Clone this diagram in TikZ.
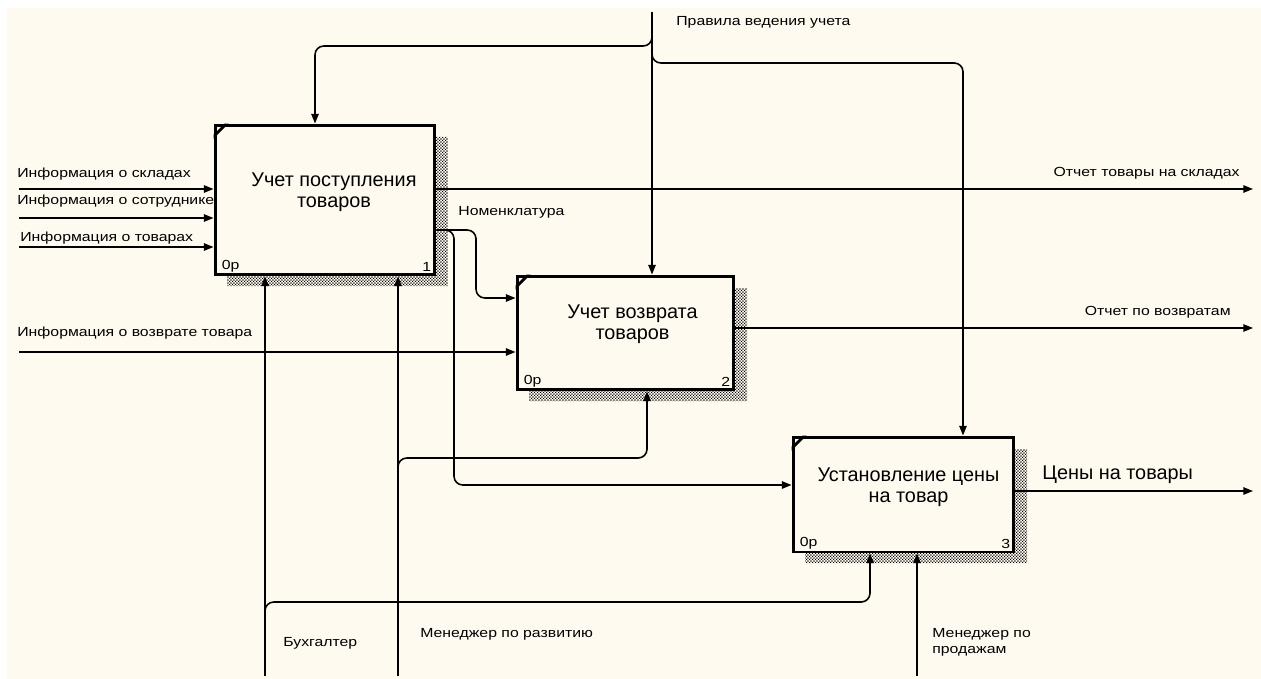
\documentclass[tikz,border=0pt]{standalone}
\usepackage{fontspec}
\setmainfont{Liberation Sans}
\newfontfamily\lblfont[FakeStretch=1.2]{Liberation Sans}
\usetikzlibrary{arrows.meta,patterns,calc}

\definecolor{paper}{RGB}{255,250,240}

% checker used for the drop shadows of the function boxes
\pgfdeclarepatternformonly{dither}{\pgfqpoint{0pt}{0pt}}{\pgfqpoint{1.7pt}{1.7pt}}{\pgfqpoint{1.7pt}{1.7pt}}{%
  \pgfpathrectangle{\pgfqpoint{0pt}{0pt}}{\pgfqpoint{0.7pt}{0.7pt}}%
  \pgfpathrectangle{\pgfqpoint{0.85pt}{0.85pt}}{\pgfqpoint{0.7pt}{0.7pt}}%
  \pgfusepath{fill}}

\tikzset{
  fbox/.style={draw, line width=1.7pt, fill=paper, inner sep=0pt},
  ftext/.style={align=center, font=\fontsize{11.3}{12}\selectfont, inner sep=0pt},
  corner/.style={font=\lblfont\fontsize{7.5}{9}\selectfont, inner sep=0pt},
  lbl/.style={font=\lblfont\fontsize{7.5}{9}\selectfont, inner sep=0pt},
  biglbl/.style={font=\fontsize{11.3}{12}\selectfont, inner sep=0pt},
  arr/.style={line width=0.9pt, -{Triangle[length=5.5pt,width=4.2pt]}},
  rc/.style={rounded corners=5},
}

\begin{document}
\begin{tikzpicture}[x=0.02cm,y=-0.02cm]
\useasboundingbox (0,0) rectangle (1261,679);
\fill[white] (0,0) rectangle (1261,679);
\fill[paper] (7,8) rectangle (1261,679);

% ---- labels drawn first so that boxes sit above them
\node[lbl, anchor=west] (lin1) at (17,174) {Информация о складах};
\node[lbl, anchor=west] (lin2) at (17,201) {Информация о сотруднике};
\node[lbl, anchor=west] (lin3) at (20,238) {Информация о товарах};
\node[lbl, anchor=west] (lin4) at (17,333) {Информация о возврате товара};
\node[lbl, anchor=west] (lctl) at (676,22) {Правила ведения учета};
\node[lbl, anchor=west] (lnom) at (458,212) {Номенклатура};
\node[lbl, anchor=east] (lout1) at (1240,173) {Отчет товары на складах};
\node[lbl, anchor=east] (lout2) at (1231,312) {Отчет по возвратам};
\node[biglbl, anchor=west] (lout3) at (1042,475) {Цены на товары};
\node[lbl, anchor=west] (lm1) at (283,643) {Бухгалтер};
\node[lbl, anchor=west] (lm2) at (420,634) {Менеджер по развитию};
\node[lbl, anchor=north west, align=left] (lm3) at (932,628) {Менеджер по\\продажам};

% ---- function boxes
\coordinate (c1) at (325,200);
\coordinate (c2) at (625.5,333);
\coordinate (c3) at (903.5,494.5);

% L-shaped drop shadow on the right and bottom of each box
\foreach \c/\w/\h in {c1/220/150, c2/217/114, c3/221/115}{
  \fill[pattern=dither]
    ($(\c)+(\w/2+1,-\h/2+12)$) -- ($(\c)+(\w/2+13,-\h/2+12)$)
    -- ($(\c)+(\w/2+13,\h/2+11)$) -- ($(\c)+(-\w/2+12,\h/2+11)$)
    -- ($(\c)+(-\w/2+12,\h/2+1)$) -- ($(\c)+(\w/2+1,\h/2+1)$) -- cycle;
}

\node[fbox, minimum width=4.4cm, minimum height=3.0cm] (b1) at (c1) {};
\node[fbox, minimum width=4.34cm, minimum height=2.28cm] (b2) at (c2) {};
\node[fbox, minimum width=4.42cm, minimum height=2.3cm] (b3) at (c3) {};

\node[ftext] (t1) at ($(c1)+(9,-8)$) {Учет поступления\\товаров};
\node[ftext] (t2) at ($(c2)+(7,-9)$) {Учет возврата\\товаров};
\node[ftext] (t3) at ($(c3)+(5,-7)$) {Установление цены\\на товар};

\foreach \b/\n in {b1/1, b2/2, b3/3}{
  \fill ($(\b.north west)+(0,15)$) -- ($(\b.north west)+(15,0)$) -- ($(\b.north west)+(11,0)$) -- ($(\b.north west)+(0,11)$) -- cycle;
  \node[corner, anchor=west] at ($(\b.south west)+(8,-10)$) {0р};
  \node[corner, anchor=east] at ($(\b.south east)+(-5,-10)$) {\n};
}

% ---- inputs
\coordinate (i1) at (19,189);
\coordinate (i2) at (19,218);
\coordinate (i3) at (19,247);
\coordinate (i4) at (19,352);
\draw[arr] (i1) -- (i1 -| b1.west);
\draw[arr] (i2) -- (i2 -| b1.west);
\draw[arr] (i3) -- (i3 -| b1.west);
\draw[arr] (i4) -- (i4 -| b2.west);

% ---- outputs
\coordinate (o1) at (1253,189);
\coordinate (o2) at (1253,328);
\coordinate (o3) at (1253,491);
\draw[arr] (o1 -| b1.east) -- (o1);
\draw[arr] (o2 -| b2.east) -- (o2);
\draw[arr] (o3 -| b3.east) -- (o3);

% ---- nomenclature from box 1 to boxes 2 and 3
\coordinate (n0) at (435,230);
\coordinate (n1) at (476,298);
\coordinate (n2) at (448,230);
\coordinate (n3) at (454,485);
\draw[arr, rc] (n0 -| b1.east) -| (n1) -- (n1 -| b2.west);
\draw[arr, rc] (n2) -| (n3) -- (n3 -| b3.west);

% ---- control: accounting rules
\coordinate (k0) at (652,12);
\coordinate (kA) at (652,38);
\coordinate (kL) at (315,46);
\coordinate (kB) at (652,56);
\coordinate (kR) at (963,63);
\draw[arr] (k0) -- (k0 |- b2.north);
\draw[arr, rc] (kA) |- (kL) -- (kL |- b1.north);
\draw[arr, rc] (kB) |- (kR) -- (kR |- b3.north);

% ---- mechanisms
\coordinate (m1) at (265,676);
\coordinate (m2) at (398,676);
\coordinate (m3) at (917,676);
\draw[arr] (m1) -- (m1 |- b1.south);
\draw[arr] (m2) -- (m2 |- b1.south);
\draw[arr] (m3) -- (m3 |- b3.south);
\coordinate (m1a) at (265,608);
\coordinate (m1b) at (870,602);
\draw[arr, rc] (m1a) |- (m1b) -- (m1b |- b3.south);
\coordinate (m2a) at (398,464);
\coordinate (m2b) at (647,458);
\draw[arr, rc] (m2a) |- (m2b) -- (m2b |- b2.south);
\end{tikzpicture}
\end{document}
